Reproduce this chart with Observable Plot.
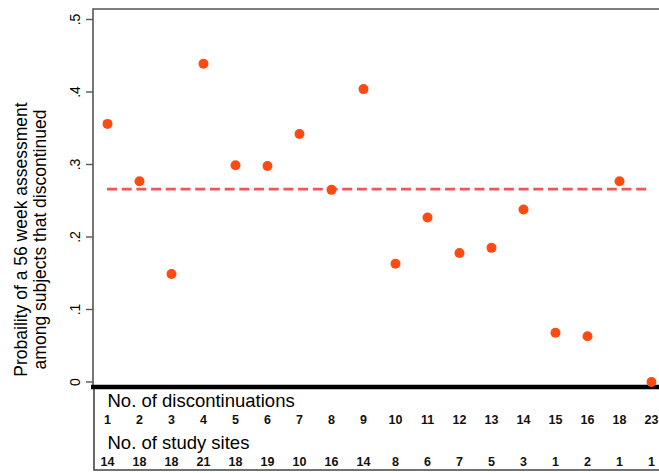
<!DOCTYPE html>
<html>
<head>
<meta charset="utf-8">
<script src="https://cdn.jsdelivr.net/npm/d3@7"></script>
<script src="https://cdn.jsdelivr.net/npm/@observablehq/plot@0.6"></script>
<style>
  html, body { margin: 0; padding: 0; background: #fff; }
  #chart svg { display: block; }
</style>
</head>
<body>
<div id="chart"></div>
<script>
// Number of discontinuations per study site group (x categories)
const discontinuations = [1, 2, 3, 4, 5, 6, 7, 8, 9, 10, 11, 12, 13, 14, 15, 16, 18, 23];
// Number of study sites in each group
const studySites = [14, 18, 18, 21, 18, 19, 10, 16, 14, 8, 6, 7, 5, 3, 1, 2, 1, 1];
// Probability of a 56 week assessment among subjects that discontinued
const probability = [0.356, 0.277, 0.149, 0.439, 0.299, 0.298, 0.342, 0.265, 0.404,
                     0.163, 0.227, 0.178, 0.185, 0.238, 0.068, 0.063, 0.277, 0.0];
// Overall probability (reference line)
const overall = 0.266;
// Y axis ticks
const yTicks = [0, 0.1, 0.2, 0.3, 0.4, 0.5];

const rows = discontinuations.map((d, i) => ({disc: d, sites: studySites[i], p: probability[i]}));
const fmtTick = d => d === 0 ? "0" : String(d).replace(/^0\./, ".");

const font = "'Liberation Sans', Arial, Helvetica, sans-serif";

// Frame lines: top and left edges of the plot area, heavy baseline and table box below it
const frameLines = (index, scales, values, dims) => {
  const {width, height, marginLeft, marginTop, marginBottom} = dims;
  const bottom = height - marginBottom;
  const g = d3.create("svg:g").attr("fill", "none");
  g.append("path")
    .attr("d", `M${width},${marginTop}H${marginLeft}V${bottom}`)
    .attr("stroke", "#555").attr("stroke-width", 1.6);
  g.append("path")
    .attr("d", `M${marginLeft + 1},${bottom}V${height - 3}H${width}`)
    .attr("stroke", "#444").attr("stroke-width", 1.6);
  g.append("path")
    .attr("d", `M${marginLeft - 2},${bottom}H${width}`)
    .attr("stroke", "#000").attr("stroke-width", 4.5);
  return g.node();
};

const chart = Plot.plot({
  width: 659,
  height: 473,
  marginLeft: 93,
  marginRight: 0,
  marginTop: 9,
  marginBottom: 86,
  style: {fontFamily: font, background: "#fff", color: "#000"},
  x: {type: "point", domain: discontinuations, padding: 0, insetLeft: 11, insetRight: 5, axis: null},
  y: {domain: [-0.0076, 0.5138], axis: null},
  marks: [
    // y ticks (marks only)
    Plot.axisY({ticks: yTicks, tickSize: 7, tickFormat: () => "", stroke: "#555", strokeWidth: 1.4, label: null}),
    // rotated y tick labels
    Plot.text(yTicks, {y: d => d, text: fmtTick, frameAnchor: "left", dx: -18, rotate: -90,
      textAnchor: "middle", lineAnchor: "middle", fontSize: 14, fill: "#000"}),
    // y axis title
    Plot.text(["Probaility of a 56 week assessment\namong subjects that discontinued"], {
      frameAnchor: "left", dx: -63, dy: 41, rotate: -90, textAnchor: "middle", lineAnchor: "middle",
      fontSize: 17.5, lineHeight: 1.08, fill: "#000"}),
    // overall reference line
    Plot.ruleY([overall], {x1: discontinuations[0], x2: discontinuations[discontinuations.length - 1],
      stroke: "#f0555a", strokeWidth: 2.6, strokeDasharray: "10,4.7"}),
    frameLines,
    // table headings and rows below the axis
    Plot.text(["No. of discontinuations"], {frameAnchor: "bottom-left", dx: 14, dy: 14,
      textAnchor: "start", lineAnchor: "middle", fontSize: 18.5, fill: "#000"}),
    Plot.text(rows, {x: "disc", text: d => String(d.disc), frameAnchor: "bottom", dy: 32,
      lineAnchor: "middle", fontSize: 12.5, fontWeight: "bold", fill: "#111"}),
    Plot.text(["No. of study sites"], {frameAnchor: "bottom-left", dx: 14, dy: 55.5,
      textAnchor: "start", lineAnchor: "middle", fontSize: 18.5, fill: "#000"}),
    Plot.text(rows, {x: "disc", text: d => String(d.sites), frameAnchor: "bottom", dy: 74.5,
      lineAnchor: "middle", fontSize: 12.5, fontWeight: "bold", fill: "#111"}),
    // probability points
    Plot.dot(rows, {x: "disc", y: "p", r: 5, fill: "#ff4a12", stroke: "none"})
  ]
});

document.getElementById("chart").appendChild(chart);
</script>
</body>
</html>
